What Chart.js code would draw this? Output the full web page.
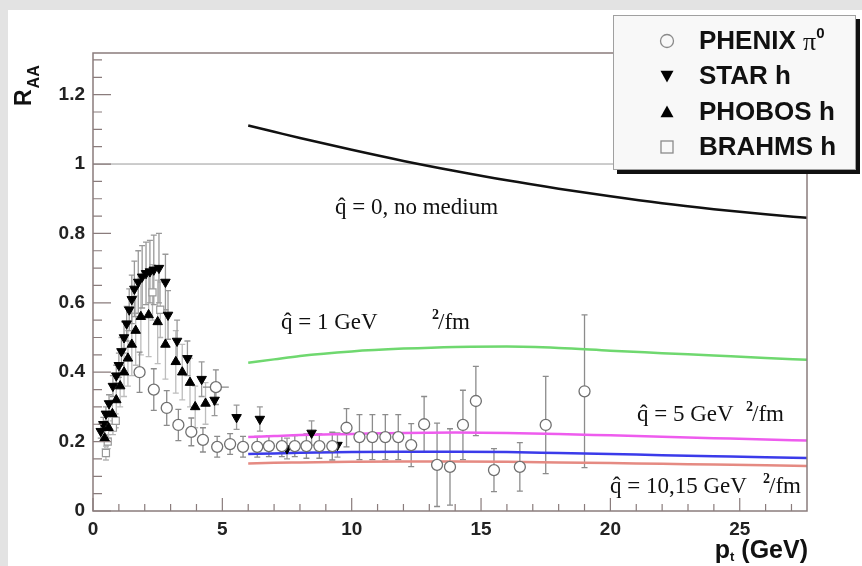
<!DOCTYPE html>
<html>
<head>
<meta charset="utf-8">
<script src="https://cdn.jsdelivr.net/npm/chart.js@4.4.0/dist/chart.umd.min.js"></script>
<style>
  html, body { margin: 0; padding: 0; background: #e3e3e3; }
</style>
</head>
<body>
<canvas id="raa" width="862" height="566"></canvas>
<script>
  // --- data ---
  const phenixX = [1.8, 2.35, 2.85, 3.3, 3.8, 4.25, 4.75, 4.8, 5.3, 5.8, 6.35, 6.8, 7.3, 7.8, 8.25, 8.75, 9.25,
                   9.8, 10.3, 10.8, 11.3, 11.8, 12.3, 12.8, 13.3, 13.8, 14.3, 14.8, 15.5, 16.5, 17.5, 19.0];
  const phenixY = [0.40, 0.35, 0.297, 0.248, 0.228, 0.205, 0.357, 0.185, 0.193, 0.185, 0.185, 0.187, 0.187, 0.187, 0.187, 0.187, 0.187,
                   0.24, 0.213, 0.213, 0.213, 0.213, 0.19, 0.25, 0.133, 0.127, 0.248, 0.317, 0.118, 0.127, 0.248, 0.345];
  const phenixErr = [0.058, 0.06, 0.05, 0.045, 0.04, 0.035, 0.05, 0.03, 0.03, 0.03, 0.03, 0.03, 0.03, 0.03, 0.035, 0.035, 0.04,
                     0.055, 0.065, 0.065, 0.065, 0.065, 0.062, 0.08, 0.12, 0.11, 0.1, 0.1, 0.062, 0.07, 0.14, 0.22];

  const starX = [0.3, 0.4, 0.5, 0.62, 0.77, 0.9, 1.0, 1.1, 1.2, 1.3, 1.4, 1.5, 1.6, 1.75, 1.9, 2.05, 2.2, 2.35, 2.55,
                 2.8, 2.9, 3.25, 3.65, 4.2, 4.7, 5.55, 6.45, 7.5, 8.45, 9.45];
  const starY = [0.23, 0.25, 0.28, 0.31, 0.36, 0.39, 0.42, 0.46, 0.5, 0.54, 0.58, 0.61, 0.64, 0.66, 0.675, 0.685, 0.69, 0.695, 0.70,
                 0.66, 0.565, 0.49, 0.44, 0.38, 0.32, 0.27, 0.265, 0.18, 0.225, 0.19];
  const starErr = [0.02, 0.02, 0.02, 0.025, 0.03, 0.03, 0.035, 0.04, 0.045, 0.05, 0.06, 0.07, 0.08, 0.09, 0.09, 0.09, 0.09, 0.1, 0.1,
                   0.08, 0.07, 0.06, 0.05, 0.05, 0.045, 0.035, 0.035, 0.03, 0.035, 0.035];

  const phobosX = [0.45, 0.6, 0.75, 0.9, 1.05, 1.2, 1.35, 1.5, 1.65, 1.85, 2.15, 2.5, 2.8, 3.2, 3.45, 3.75, 3.95, 4.35];
  const phobosY = [0.21, 0.24, 0.28, 0.32, 0.36, 0.40, 0.44, 0.48, 0.52, 0.56, 0.565, 0.545, 0.48, 0.43, 0.40, 0.37, 0.30, 0.31];
  const phobosErr = [0.03, 0.03, 0.04, 0.05, 0.06, 0.07, 0.08, 0.09, 0.1, 0.11, 0.12, 0.12, 0.1, 0.09, 0.08, 0.07, 0.06, 0.06];

  const brahmsX = [0.5, 0.57, 0.77, 0.88, 2.3, 2.6];
  const brahmsY = [0.167, 0.2, 0.24, 0.26, 0.63, 0.58];
  const brahmsErr = [0.02, 0.02, 0.02, 0.02, 0.08, 0.08];

  // theory curves
  const curveX    = [6, 7, 8, 10, 12, 14, 16, 18, 20, 22, 24, 26, 27.6];
  const noMedium  = [1.111, 1.093, 1.075, 1.041, 1.009, 0.98, 0.953, 0.929, 0.907, 0.887, 0.87, 0.855, 0.845];
  const qhat1     = [0.427, 0.437, 0.447, 0.46, 0.468, 0.473, 0.474, 0.47, 0.462, 0.455, 0.448, 0.441, 0.436];
  const qhat5     = [0.213, 0.216, 0.219, 0.222, 0.225, 0.226, 0.225, 0.222, 0.218, 0.214, 0.21, 0.206, 0.203];
  const qhat10    = [0.164, 0.166, 0.168, 0.17, 0.171, 0.171, 0.17, 0.167, 0.164, 0.161, 0.158, 0.155, 0.153];
  const qhat15    = [0.137, 0.139, 0.14, 0.142, 0.143, 0.143, 0.142, 0.14, 0.138, 0.136, 0.134, 0.132, 0.13];

  const xTicks = [0, 5, 10, 15, 20, 25];
  const yTicks = [0, 0.2, 0.4, 0.6, 0.8, 1, 1.2];
  const legendLabels = ['PHENIX', 'STAR h', 'PHOBOS h', 'BRAHMS h'];

  const pts = (xs, ys) => xs.map((x, i) => ({ x: x, y: ys[i] }));
  const curve = (ys, color) => ({
    data: pts(curveX, ys), showLine: true, borderColor: color, borderWidth: 2.5,
    pointRadius: 0, tension: 0.4, cubicInterpolationMode: 'monotone', order: 5
  });

  const SANS = '"Liberation Sans", Arial, sans-serif';
  const SERIF = '"Liberation Serif", "Times New Roman", serif';
  const FRAME = '#8a7c7c';

  function tri(c, x, y, s, down) {
    c.beginPath();
    if (down) { c.moveTo(x - s, y - s * 0.8); c.lineTo(x + s, y - s * 0.8); c.lineTo(x, y + s); }
    else { c.moveTo(x - s, y + s * 0.8); c.lineTo(x + s, y + s * 0.8); c.lineTo(x, y - s); }
    c.closePath(); c.fill();
  }

  // "q̂ = ... GeV ²/fm" labels; the "²/fm" part ends at endX
  function qLabel(c, x, y, mid, endX) {
    c.font = '23px ' + SERIF;
    c.fillStyle = '#111';
    c.textBaseline = 'alphabetic';
    c.textAlign = 'left';
    c.fillText('q̂ = ' + mid, x, y);
    if (endX) {
      c.textAlign = 'right';
      c.fillText('/fm', endX, y);
      const fw = c.measureText('/fm').width;
      c.font = 'bold 14px ' + SERIF;
      c.fillText('2', endX - fw + 1, y - 10);
    }
  }

  const decor = {
    id: 'decor',
    beforeDraw(chart) {
      const c = chart.ctx;
      c.save();
      c.fillStyle = '#e3e3e3';
      c.fillRect(0, 0, chart.width, chart.height);
      c.fillStyle = '#ffffff';
      c.fillRect(8, 10, chart.width - 8, chart.height - 10);
      c.restore();
    },
    beforeDatasetsDraw(chart) {
      const c = chart.ctx, xs = chart.scales.x, ys = chart.scales.y, a = chart.chartArea;
      c.save();
      // reference line at 1
      c.strokeStyle = '#9a9a9a'; c.lineWidth = 1;
      c.beginPath(); c.moveTo(a.left, ys.getPixelForValue(1)); c.lineTo(a.right, ys.getPixelForValue(1)); c.stroke();
      // error bars
      chart.data.datasets.forEach(ds => {
        if (!ds.errs) return;
        c.strokeStyle = ds.errColor; c.lineWidth = 1.3;
        ds.data.forEach((p, i) => {
          const px = xs.getPixelForValue(p.x);
          const lo = Math.max(0, p.y - ds.errs[i]);
          const y1 = ys.getPixelForValue(lo), y2 = ys.getPixelForValue(p.y + ds.errs[i]);
          c.beginPath();
          c.moveTo(px, y1); c.lineTo(px, y2);
          c.moveTo(px - 3, y1); c.lineTo(px + 3, y1);
          c.moveTo(px - 3, y2); c.lineTo(px + 3, y2);
          c.stroke();
        });
        if (ds.xErrIdx !== undefined) {
          const p = ds.data[ds.xErrIdx];
          const py = ys.getPixelForValue(p.y);
          c.beginPath();
          c.moveTo(xs.getPixelForValue(p.x - 0.5), py); c.lineTo(xs.getPixelForValue(p.x + 0.5), py);
          c.stroke();
        }
      });
      c.restore();
    },
    afterDraw(chart) {
      const c = chart.ctx, xs = chart.scales.x, ys = chart.scales.y, a = chart.chartArea;
      c.save();
      // frame
      c.strokeStyle = FRAME; c.lineWidth = 1.5;
      c.strokeRect(a.left, a.top, a.right - a.left, a.bottom - a.top);
      // ticks inside
      c.lineWidth = 1.2;
      c.beginPath();
      for (let i = 0; i <= 27; i++) {
        const px = xs.getPixelForValue(i);
        const len = i % 5 === 0 ? 13 : 7;
        c.moveTo(px, a.bottom); c.lineTo(px, a.bottom - len);
      }
      for (let i = 0; i <= 26; i++) {
        const py = ys.getPixelForValue(i * 0.05);
        const len = i % 4 === 0 ? 18 : 9;
        c.moveTo(a.left, py); c.lineTo(a.left + len, py);
      }
      c.stroke();

      // axis titles
      c.fillStyle = '#111';
      c.font = 'bold 25px ' + SANS;
      c.textAlign = 'right'; c.textBaseline = 'alphabetic';
      const unit = ' (GeV)';
      c.fillText(unit, a.right + 1, 558);
      const uw = c.measureText(unit).width;
      c.font = 'bold 13px ' + SANS;
      c.fillText('t', a.right + 1 - uw, 561);
      const tw = c.measureText('t').width;
      c.font = 'bold 25px ' + SANS;
      c.fillText('p', a.right + 1 - uw - tw, 558);

      c.save();
      c.translate(31, 106);
      c.rotate(-Math.PI / 2);
      c.textAlign = 'left';
      c.font = 'bold 23px ' + SANS;
      c.fillText('R', 0, 0);
      const rw = c.measureText('R').width;
      c.font = 'bold 16px ' + SANS;
      c.fillText('AA', rw + 1, 8);
      c.restore();

      // annotations
      qLabel(c, 335, 214, '0, no medium', 0);
      qLabel(c, 281, 329, '1 GeV', 470);
      qLabel(c, 637, 421, '5 GeV', 784);
      qLabel(c, 610, 493, '10,15 GeV', 801);

      // legend box with shadow
      c.fillStyle = '#111';
      c.fillRect(617, 19, 243, 155);
      c.fillStyle = '#f8f8f8';
      c.fillRect(613, 15, 243, 155);
      c.strokeStyle = '#a0a0a0'; c.lineWidth = 1;
      c.strokeRect(613.5, 15.5, 242, 154);

      const mx = 667, rows = [41, 76, 112, 147];
      c.strokeStyle = '#8a8a8a'; c.lineWidth = 1.3;
      c.beginPath(); c.arc(mx, rows[0], 6.5, 0, Math.PI * 2); c.stroke();
      c.fillStyle = '#000';
      tri(c, mx, rows[1], 6.5, true);
      tri(c, mx, rows[2], 6.5, false);
      c.strokeRect(mx - 6, rows[3] - 6, 12, 12);

      c.fillStyle = '#111';
      c.textAlign = 'left'; c.textBaseline = 'middle';
      c.font = 'bold 26px ' + SANS;
      legendLabels.forEach((t, i) => c.fillText(t, 699, rows[i] + 1));
      let lw = c.measureText(legendLabels[0] + ' ').width;
      c.font = '26px ' + SERIF;
      c.fillText('π', 699 + lw, rows[0] + 2);
      lw += c.measureText('π').width;
      c.font = 'bold 15px ' + SANS;
      c.fillText('0', 699 + lw, rows[0] - 7);
      c.restore();
    }
  };

  new Chart(document.getElementById('raa'), {
    type: 'scatter',
    data: {
      datasets: [
        curve(noMedium, '#111111'),
        curve(qhat1, '#6fd86f'),
        curve(qhat5, '#ee5cee'),
        curve(qhat10, '#3b3bea'),
        curve(qhat15, '#e58a82'),
        { data: pts(brahmsX, brahmsY), errs: brahmsErr, errColor: '#b5b5b5', pointStyle: 'rect', pointRadius: 5,
          borderColor: '#999', backgroundColor: '#fff', borderWidth: 1.2, order: 4 },
        { data: pts(phobosX, phobosY), errs: phobosErr, errColor: '#bdbdbd', pointStyle: 'triangle', pointRadius: 5.5,
          borderColor: '#000', backgroundColor: '#000', borderWidth: 1, order: 3 },
        { data: pts(starX, starY), errs: starErr, errColor: '#999', pointStyle: 'triangle', rotation: 180, pointRadius: 5.5,
          borderColor: '#000', backgroundColor: '#000', borderWidth: 1, order: 2 },
        { data: pts(phenixX, phenixY), errs: phenixErr, errColor: '#8c8c8c', xErrIdx: 6, pointStyle: 'circle', pointRadius: 5.5,
          borderColor: '#707070', backgroundColor: '#fff', borderWidth: 1.3, order: 1 }
      ]
    },
    options: {
      responsive: false,
      animation: false,
      events: [],
      layout: { padding: { left: 0, right: 55, top: 53, bottom: 25 } },
      plugins: { legend: { display: false }, tooltip: { enabled: false } },
      scales: {
        x: {
          type: 'linear', min: 0, max: 27.6,
          afterFit: s => { s.height = 30; },
          afterBuildTicks: s => { s.ticks = xTicks.map(v => ({ value: v })); },
          grid: { display: false, drawTicks: false }, border: { display: false },
          ticks: { padding: 7, color: '#222', font: { family: SANS, size: 19, weight: 'bold' }, maxRotation: 0,
                   callback: v => String(v) }
        },
        y: {
          type: 'linear', min: 0, max: 1.32,
          afterFit: s => { s.width = 93; },
          afterBuildTicks: s => { s.ticks = yTicks.map(v => ({ value: v })); },
          grid: { display: false, drawTicks: false }, border: { display: false },
          ticks: { padding: 8, color: '#222', font: { family: SANS, size: 19, weight: 'bold' },
                   callback: v => String(Number(v.toFixed(1))) }
        }
      }
    },
    plugins: [decor]
  });
</script>
</body>
</html>
